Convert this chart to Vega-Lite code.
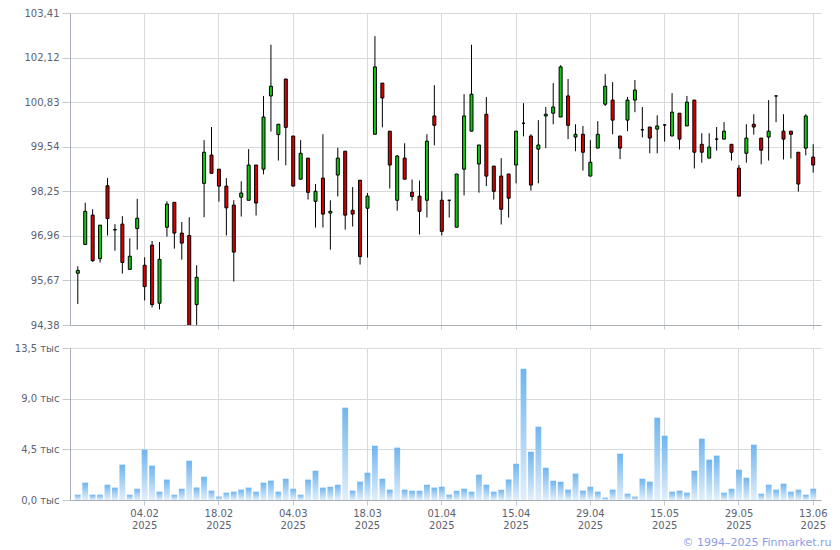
{
  "$schema": "https://vega.github.io/schema/vega-lite/v6.json",
  "autosize": {"type": "pad"},
  "padding": {"left": 14, "top": 8, "right": 5, "bottom": 2},
  "background": "white",
  "config": {
    "view": {"stroke": null},
    "axis": {
      "labelFont": "DejaVu Sans", "labelFontSize": 10, "labelColor": "#5d6270",
      "domainColor": "#a9adb8", "gridColor": "#d6d9de", "tickColor": "#c4c8cf",
      "titleFont": "DejaVu Sans"
    }
  },
  "datasets": {
    "bond": [
      {"d":"2025-01-22","o":95.88,"h":96.08,"l":94.99,"c":95.96,"v":470},
      {"d":"2025-01-23","o":96.71,"h":97.92,"l":96.70,"c":97.67,"v":1540},
      {"d":"2025-01-24","o":97.56,"h":97.73,"l":96.21,"c":96.24,"v":470},
      {"d":"2025-01-27","o":96.30,"h":97.27,"l":96.19,"c":97.27,"v":470},
      {"d":"2025-01-28","o":98.41,"h":98.63,"l":96.97,"c":97.46,"v":1360},
      {"d":"2025-01-29","o":97.14,"h":97.30,"l":96.53,"c":97.13,"v":1100},
      {"d":"2025-01-30","o":97.30,"h":97.53,"l":95.87,"c":96.19,"v":3140},
      {"d":"2025-01-31","o":95.99,"h":96.89,"l":95.99,"c":96.37,"v":470},
      {"d":"2025-02-03","o":97.17,"h":98.03,"l":96.56,"c":97.47,"v":1000},
      {"d":"2025-02-04","o":96.11,"h":96.34,"l":95.09,"c":95.49,"v":4470},
      {"d":"2025-02-05","o":96.69,"h":96.81,"l":94.89,"c":94.97,"v":3050},
      {"d":"2025-02-06","o":95.01,"h":96.78,"l":94.83,"c":96.28,"v":740},
      {"d":"2025-02-07","o":97.21,"h":97.96,"l":96.94,"c":97.88,"v":1810},
      {"d":"2025-02-10","o":97.93,"h":97.94,"l":96.59,"c":97.04,"v":470},
      {"d":"2025-02-11","o":97.04,"h":97.36,"l":96.27,"c":96.75,"v":1000},
      {"d":"2025-02-12","o":96.97,"h":97.50,"l":94.25,"c":94.30,"v":3490},
      {"d":"2025-02-13","o":94.97,"h":96.11,"l":94.38,"c":95.76,"v":1100},
      {"d":"2025-02-14","o":98.48,"h":99.73,"l":97.50,"c":99.38,"v":2070},
      {"d":"2025-02-17","o":99.30,"h":100.11,"l":98.77,"c":98.77,"v":830},
      {"d":"2025-02-18","o":98.89,"h":98.89,"l":97.95,"c":98.40,"v":300},
      {"d":"2025-02-19","o":98.40,"h":98.63,"l":96.97,"c":97.77,"v":650},
      {"d":"2025-02-20","o":97.85,"h":97.99,"l":95.64,"c":96.49,"v":740},
      {"d":"2025-02-21","o":98.08,"h":98.54,"l":97.52,"c":98.20,"v":920},
      {"d":"2025-02-24","o":97.99,"h":99.47,"l":97.99,"c":99.01,"v":1100},
      {"d":"2025-02-25","o":99.01,"h":99.01,"l":97.55,"c":97.91,"v":740},
      {"d":"2025-02-26","o":98.89,"h":101.01,"l":98.74,"c":100.40,"v":1540},
      {"d":"2025-02-27","o":101.01,"h":102.49,"l":99.98,"c":101.29,"v":1720},
      {"d":"2025-02-28","o":99.89,"h":100.19,"l":99.14,"c":100.19,"v":740},
      {"d":"2025-03-03","o":101.50,"h":101.50,"l":99.00,"c":100.10,"v":1890},
      {"d":"2025-03-04","o":99.85,"h":99.85,"l":98.40,"c":98.40,"v":1000},
      {"d":"2025-03-05","o":98.60,"h":99.73,"l":98.60,"c":99.35,"v":470},
      {"d":"2025-03-06","o":99.21,"h":99.21,"l":98.01,"c":98.22,"v":1810},
      {"d":"2025-03-07","o":97.96,"h":98.46,"l":97.20,"c":98.25,"v":2600},
      {"d":"2025-03-10","o":98.63,"h":99.90,"l":97.20,"c":97.59,"v":1100},
      {"d":"2025-03-11","o":97.62,"h":97.99,"l":96.56,"c":97.67,"v":1180},
      {"d":"2025-03-12","o":98.72,"h":99.51,"l":98.10,"c":99.21,"v":1360},
      {"d":"2025-03-13","o":99.41,"h":99.41,"l":97.14,"c":97.56,"v":8200},
      {"d":"2025-03-14","o":97.70,"h":98.37,"l":97.23,"c":97.59,"v":830},
      {"d":"2025-03-17","o":98.57,"h":98.57,"l":96.13,"c":96.36,"v":1630},
      {"d":"2025-03-18","o":97.76,"h":98.20,"l":96.33,"c":98.11,"v":2430},
      {"d":"2025-03-19","o":99.90,"h":102.74,"l":99.90,"c":101.85,"v":4820},
      {"d":"2025-03-20","o":101.38,"h":101.38,"l":100.10,"c":100.95,"v":1890},
      {"d":"2025-03-21","o":99.99,"h":99.99,"l":98.33,"c":99.01,"v":920},
      {"d":"2025-03-24","o":97.99,"h":99.30,"l":97.69,"c":99.27,"v":4650},
      {"d":"2025-03-25","o":99.21,"h":99.64,"l":98.60,"c":98.60,"v":920},
      {"d":"2025-03-26","o":98.22,"h":98.59,"l":97.98,"c":98.10,"v":830},
      {"d":"2025-03-27","o":98.11,"h":98.56,"l":97.00,"c":97.67,"v":830},
      {"d":"2025-03-28","o":97.99,"h":99.90,"l":97.49,"c":99.70,"v":1360},
      {"d":"2025-03-31","o":100.43,"h":101.32,"l":99.58,"c":100.16,"v":1100},
      {"d":"2025-04-01","o":97.99,"h":98.25,"l":96.97,"c":97.09,"v":1180},
      {"d":"2025-04-02","o":97.99,"h":97.99,"l":97.49,"c":97.99,"v":470},
      {"d":"2025-04-03","o":97.21,"h":98.75,"l":97.21,"c":98.75,"v":830},
      {"d":"2025-04-04","o":98.89,"h":101.06,"l":98.13,"c":100.43,"v":1000},
      {"d":"2025-04-07","o":99.99,"h":102.49,"l":99.99,"c":101.06,"v":740},
      {"d":"2025-04-08","o":99.04,"h":99.59,"l":98.21,"c":99.59,"v":2250},
      {"d":"2025-04-09","o":100.48,"h":100.98,"l":98.40,"c":98.69,"v":1360},
      {"d":"2025-04-10","o":98.98,"h":98.98,"l":98.01,"c":98.25,"v":740},
      {"d":"2025-04-11","o":98.69,"h":99.21,"l":97.29,"c":97.73,"v":920},
      {"d":"2025-04-14","o":98.75,"h":98.75,"l":97.49,"c":98.05,"v":1810},
      {"d":"2025-04-15","o":99.01,"h":99.99,"l":98.48,"c":99.99,"v":3230},
      {"d":"2025-04-16","o":100.22,"h":100.80,"l":99.84,"c":100.22,"v":11660},
      {"d":"2025-04-17","o":99.85,"h":99.90,"l":98.27,"c":98.43,"v":4290},
      {"d":"2025-04-18","o":99.47,"h":100.31,"l":98.48,"c":99.59,"v":6510},
      {"d":"2025-04-21","o":100.43,"h":100.69,"l":99.50,"c":100.48,"v":2870},
      {"d":"2025-04-22","o":100.51,"h":101.38,"l":100.19,"c":100.69,"v":1720},
      {"d":"2025-04-23","o":100.40,"h":101.90,"l":100.40,"c":101.85,"v":1630},
      {"d":"2025-04-24","o":101.01,"h":101.50,"l":99.76,"c":100.16,"v":920},
      {"d":"2025-04-25","o":99.82,"h":100.19,"l":99.41,"c":99.90,"v":2340},
      {"d":"2025-04-28","o":99.90,"h":100.14,"l":98.85,"c":99.38,"v":830},
      {"d":"2025-04-29","o":98.69,"h":99.73,"l":98.69,"c":99.09,"v":1180},
      {"d":"2025-04-30","o":99.50,"h":100.28,"l":99.50,"c":99.90,"v":740},
      {"d":"2025-05-02","o":100.77,"h":101.64,"l":100.72,"c":101.29,"v":210},
      {"d":"2025-05-05","o":100.89,"h":101.41,"l":99.90,"c":100.31,"v":920},
      {"d":"2025-05-06","o":99.85,"h":99.85,"l":99.18,"c":99.50,"v":4110},
      {"d":"2025-05-07","o":100.31,"h":100.98,"l":99.99,"c":100.89,"v":560},
      {"d":"2025-05-08","o":100.89,"h":101.47,"l":100.54,"c":101.18,"v":300},
      {"d":"2025-05-12","o":100.03,"h":100.69,"l":99.81,"c":100.03,"v":1890},
      {"d":"2025-05-13","o":100.11,"h":100.11,"l":99.35,"c":99.79,"v":1630},
      {"d":"2025-05-14","o":100.05,"h":100.45,"l":99.35,"c":100.14,"v":7310},
      {"d":"2025-05-15","o":100.17,"h":100.19,"l":99.69,"c":100.17,"v":5710},
      {"d":"2025-05-16","o":99.85,"h":101.09,"l":99.85,"c":100.54,"v":740},
      {"d":"2025-05-19","o":100.51,"h":100.51,"l":99.46,"c":99.76,"v":830},
      {"d":"2025-05-20","o":100.14,"h":101.01,"l":100.14,"c":100.83,"v":650},
      {"d":"2025-05-21","o":100.89,"h":100.89,"l":98.91,"c":99.38,"v":2600},
      {"d":"2025-05-22","o":99.61,"h":99.93,"l":99.08,"c":99.38,"v":5450},
      {"d":"2025-05-23","o":99.21,"h":99.93,"l":99.21,"c":99.53,"v":3580},
      {"d":"2025-05-26","o":99.76,"h":100.11,"l":99.43,"c":99.76,"v":3940},
      {"d":"2025-05-27","o":99.76,"h":100.25,"l":99.76,"c":99.99,"v":650},
      {"d":"2025-05-28","o":99.61,"h":99.61,"l":99.14,"c":99.38,"v":1000},
      {"d":"2025-05-29","o":98.92,"h":99.01,"l":98.11,"c":98.11,"v":2690},
      {"d":"2025-05-30","o":99.35,"h":100.19,"l":99.08,"c":99.79,"v":1980},
      {"d":"2025-06-02","o":100.19,"h":100.48,"l":99.89,"c":100.11,"v":4910},
      {"d":"2025-06-03","o":99.79,"h":99.79,"l":99.03,"c":99.44,"v":560},
      {"d":"2025-06-04","o":99.82,"h":100.89,"l":99.14,"c":99.99,"v":1360},
      {"d":"2025-06-05","o":101.01,"h":101.01,"l":100.25,"c":101.01,"v":920},
      {"d":"2025-06-06","o":99.99,"h":100.48,"l":99.17,"c":99.76,"v":1450},
      {"d":"2025-06-09","o":99.99,"h":99.99,"l":99.20,"c":99.90,"v":740},
      {"d":"2025-06-10","o":99.38,"h":99.38,"l":98.24,"c":98.46,"v":920},
      {"d":"2025-06-11","o":99.50,"h":100.48,"l":99.29,"c":100.43,"v":470},
      {"d":"2025-06-13","o":99.24,"h":99.61,"l":98.79,"c":99.01,"v":1000}
    ]
  },
  "data": {"name": "bond"},
  "bounds": "flush",
  "spacing": 23,
  "vconcat": [
    {
      "width": 751,
      "height": 312,
      "layer": [
        {
          "mark": {"type": "rule", "color": "black", "strokeWidth": 1, "clip": true},
          "encoding": {
            "x": {
              "field": "d", "type": "ordinal",
              "scale": {"type": "band", "paddingInner": 0.2, "paddingOuter": 0.65},
              "axis": {
                "values": ["2025-02-04","2025-02-18","2025-03-04","2025-03-18","2025-04-01","2025-04-15","2025-04-29","2025-05-15","2025-05-29","2025-06-13"],
                "bandPosition": 0.5, "labels": false, "title": null, "grid": true,
                "tickSize": 4, "ticks": true
              }
            },
            "y": {
              "field": "l", "type": "quantitative",
              "scale": {"domain": [94.38, 103.41], "nice": false, "zero": false},
              "axis": {
                "values": [94.38, 95.67, 96.96, 98.25, 99.54, 100.83, 102.12, 103.41],
                "labelExpr": "replace(format(datum.value, '.2f'), '.', ',')",
                "title": null, "grid": true, "tickSize": 8, "labelPadding": 3
              }
            },
            "y2": {"field": "h"}
          }
        },
        {
          "mark": {"type": "bar", "size": 3, "stroke": "black", "strokeWidth": 1, "clip": true},
          "encoding": {
            "x": {"field": "d", "type": "ordinal"},
            "y": {"field": "o", "type": "quantitative", "title": null},
            "y2": {"field": "c"},
            "fill": {
              "condition": {"test": "datum.c > datum.o", "value": "#10c810"},
              "value": "#d40000"
            }
          }
        }
      ]
    },
    {
      "width": 751,
      "height": 152,
      "mark": {
        "type": "bar",
        "color": {
          "gradient": "linear", "x1": 0, "y1": 0, "x2": 0, "y2": 1,
          "stops": [{"offset": 0, "color": "#70b5ef"}, {"offset": 1, "color": "#e2effb"}]
        }
      },
      "encoding": {
        "x": {
          "field": "d", "type": "ordinal",
          "scale": {"type": "band", "paddingInner": 0.22, "paddingOuter": 0.65},
          "axis": {
            "values": ["2025-02-04","2025-02-18","2025-03-04","2025-03-18","2025-04-01","2025-04-15","2025-04-29","2025-05-15","2025-05-29","2025-06-13"],
            "bandPosition": 0.5, "grid": true, "labelAngle": 0,
            "labelExpr": "[slice(datum.value, 8, 10) + '.' + slice(datum.value, 5, 7), slice(datum.value, 0, 4)]",
            "labelLineHeight": 12, "labelPadding": 3, "tickSize": 5,
            "labelFontSize": 10, "labelBaseline": "top",
            "title": "© 1994–2025 Finmarket.ru",
            "titleX": 761, "titleY": 45, "titleAlign": "right", "titleBaseline": "alphabetic",
            "titleColor": "#8c9de6", "titleFontSize": 11, "titleFontWeight": "normal"
          }
        },
        "y": {
          "field": "v", "type": "quantitative",
          "scale": {"domain": [0, 13500], "nice": false},
          "axis": {
            "values": [0, 4500, 9000, 13500],
            "labelExpr": "replace(format(datum.value / 1000, '.1f'), '.', ',') + ' тыс'",
            "title": null, "grid": true, "tickSize": 8, "labelPadding": 3
          }
        }
      }
    }
  ]
}
